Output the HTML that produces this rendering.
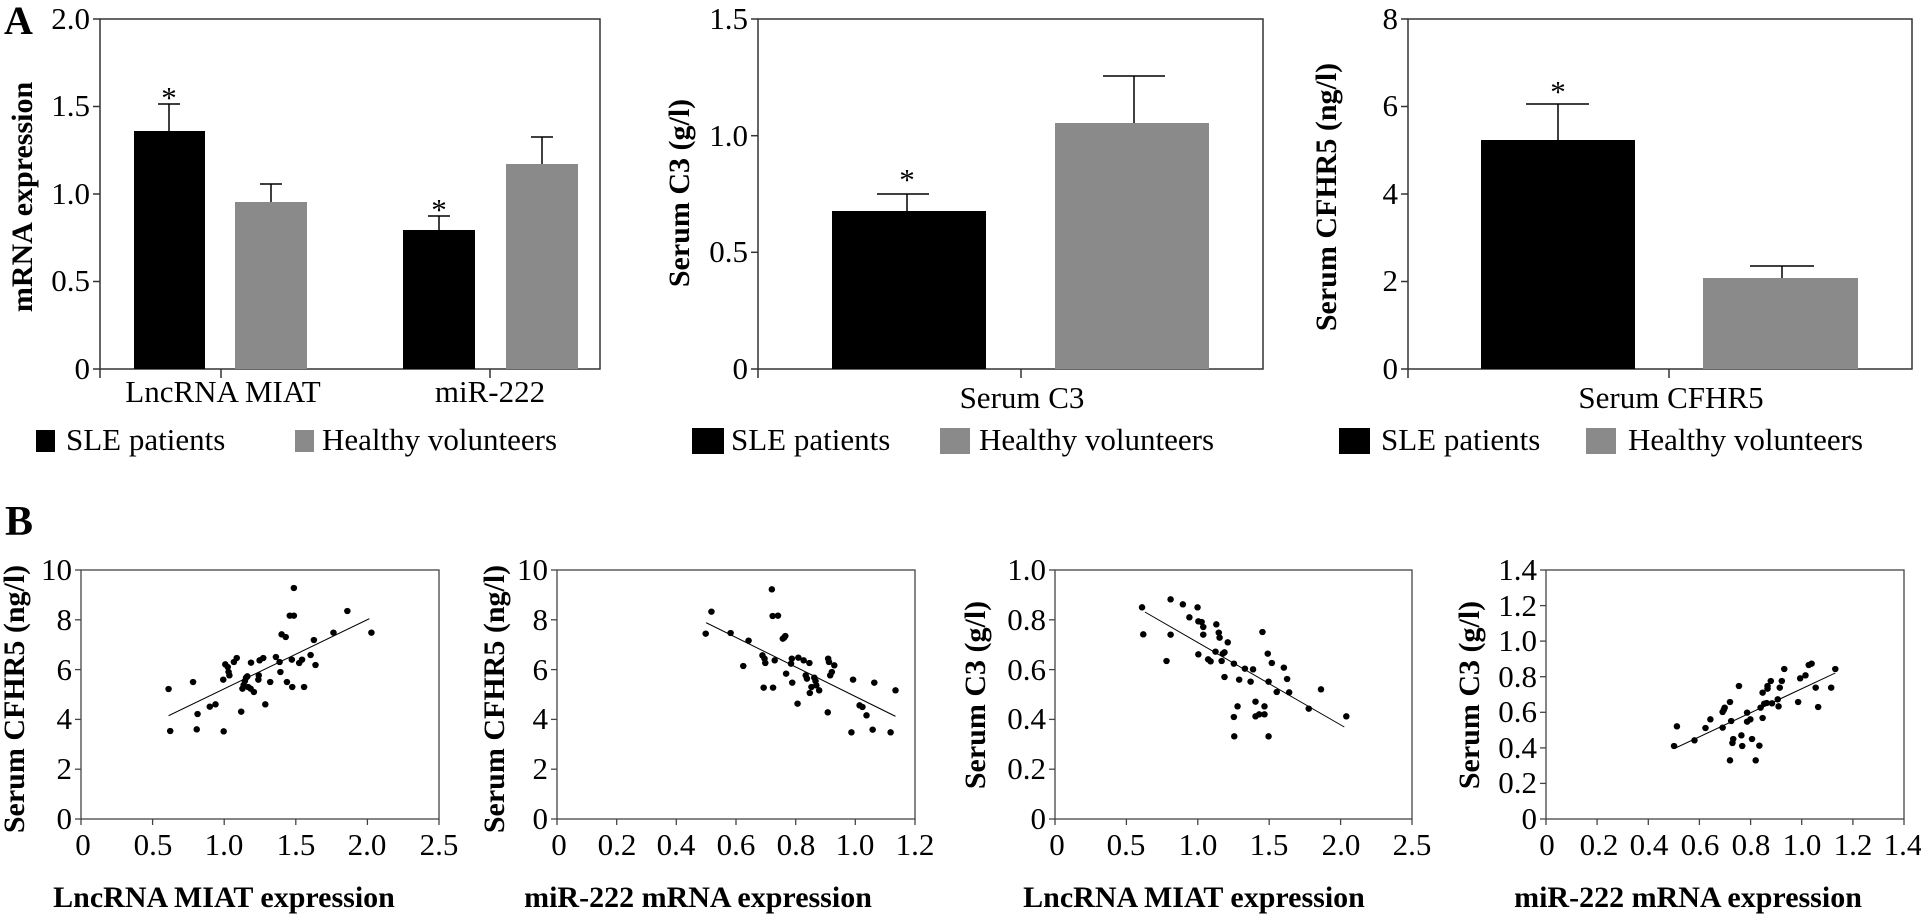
<!DOCTYPE html>
<html><head><meta charset="utf-8"><style>
html,body{margin:0;padding:0;background:#fff;}
svg{display:block;font-family:"Liberation Serif","Noto Serif CJK SC","DejaVu Serif",serif;}
svg text{font-family:"Liberation Serif","Noto Serif CJK SC","DejaVu Serif",serif;fill:#000;}
.t{font-size:31px;font-weight:normal;}
.b{font-size:30px;font-weight:bold;}
</style></head><body>
<svg width="1921" height="917" viewBox="0 0 1921 917" xmlns="http://www.w3.org/2000/svg">
<text x="4" y="34" style="font-size:40px;font-weight:bold">A</text>
<text x="5" y="535" style="font-size:42px;font-weight:bold">B</text>

<g stroke="#333" stroke-width="1.5" fill="none">
<rect x="100" y="19" width="500" height="350"/>
<line x1="93" y1="19" x2="100" y2="19"/><line x1="93" y1="106.5" x2="100" y2="106.5"/>
<line x1="93" y1="194" x2="100" y2="194"/><line x1="93" y1="281.5" x2="100" y2="281.5"/>
<line x1="93" y1="369" x2="100" y2="369"/>
<line x1="100" y1="369" x2="100" y2="378"/><line x1="221" y1="369" x2="221" y2="378"/><line x1="490" y1="369" x2="490" y2="378"/>
</g>
<rect x="134" y="131" width="71" height="238" fill="#000"/>
<rect x="235" y="202" width="72" height="167" fill="#8a8a8a"/>
<rect x="403" y="230" width="72" height="139" fill="#000"/>
<rect x="506" y="164" width="72" height="205" fill="#8a8a8a"/>
<g stroke="#000" stroke-width="1.5">
<line x1="169" y1="131" x2="169" y2="104"/><line x1="158" y1="104" x2="180" y2="104"/>
<line x1="271" y1="202" x2="271" y2="184"/><line x1="260" y1="184" x2="282" y2="184"/>
<line x1="439" y1="230" x2="439" y2="216"/><line x1="428" y1="216" x2="450" y2="216"/>
<line x1="542" y1="164" x2="542" y2="137"/><line x1="531" y1="137" x2="553" y2="137"/>
</g>
<text class="t" x="169" y="108" text-anchor="middle">*</text>
<text class="t" x="439" y="220" text-anchor="middle">*</text>
<g class="t" text-anchor="end">
<text x="90" y="29">2.0</text><text x="90" y="116">1.5</text><text x="90" y="204">1.0</text>
<text x="90" y="291">0.5</text><text x="90" y="379">0</text>
</g>
<text class="t" x="223" y="402" text-anchor="middle">LncRNA MIAT</text>
<text class="t" x="490" y="402" text-anchor="middle">miR-222</text>
<text class="b" transform="translate(32,197) rotate(-90)" text-anchor="middle">mRNA expression</text>
<rect x="36" y="430" width="19" height="22" fill="#000"/>
<text class="t" x="66" y="450">SLE patients</text>
<rect x="295" y="430" width="19" height="22" fill="#8a8a8a"/>
<text class="t" x="322" y="450">Healthy volunteers</text>

<g stroke="#333" stroke-width="1.5" fill="none">
<rect x="758" y="19" width="505" height="350"/>
<line x1="751" y1="19" x2="758" y2="19"/><line x1="751" y1="135.7" x2="758" y2="135.7"/>
<line x1="751" y1="252.3" x2="758" y2="252.3"/><line x1="751" y1="369" x2="758" y2="369"/>
<line x1="758" y1="369" x2="758" y2="378"/><line x1="1021" y1="369" x2="1021" y2="378"/>
</g>
<rect x="832" y="211" width="154" height="158" fill="#000"/>
<rect x="1055" y="123" width="154" height="246" fill="#8a8a8a"/>
<g stroke="#000" stroke-width="1.5">
<line x1="907" y1="211" x2="907" y2="194"/><line x1="877" y1="194" x2="929" y2="194"/>
<line x1="1134" y1="123" x2="1134" y2="76"/><line x1="1103" y1="76" x2="1165" y2="76"/>
</g>
<text class="t" x="907" y="190" text-anchor="middle">*</text>
<g class="t" text-anchor="end">
<text x="748" y="29">1.5</text><text x="748" y="146">1.0</text><text x="748" y="262">0.5</text><text x="748" y="379">0</text>
</g>
<text class="t" x="1022" y="408" text-anchor="middle">Serum C3</text>
<text class="b" transform="translate(689,193) rotate(-90)" text-anchor="middle">Serum C3 (g/l)</text>
<rect x="692" y="428" width="32" height="26" fill="#000"/>
<text class="t" x="731" y="450">SLE patients</text>
<rect x="940" y="428" width="30" height="26" fill="#8a8a8a"/>
<text class="t" x="979" y="450">Healthy volunteers</text>

<g stroke="#333" stroke-width="1.5" fill="none">
<rect x="1408" y="19" width="504" height="350"/>
<line x1="1401" y1="19" x2="1408" y2="19"/><line x1="1401" y1="106.5" x2="1408" y2="106.5"/>
<line x1="1401" y1="194" x2="1408" y2="194"/><line x1="1401" y1="281.5" x2="1408" y2="281.5"/>
<line x1="1401" y1="369" x2="1408" y2="369"/>
<line x1="1408" y1="369" x2="1408" y2="378"/><line x1="1669" y1="369" x2="1669" y2="378"/>
</g>
<rect x="1481" y="140" width="154" height="229" fill="#000"/>
<rect x="1703" y="278" width="155" height="91" fill="#8a8a8a"/>
<g stroke="#000" stroke-width="1.5">
<line x1="1558" y1="140" x2="1558" y2="104"/><line x1="1526" y1="104" x2="1589" y2="104"/>
<line x1="1782" y1="278" x2="1782" y2="266"/><line x1="1750" y1="266" x2="1814" y2="266"/>
</g>
<text class="t" x="1558" y="102" text-anchor="middle">*</text>
<g class="t" text-anchor="end">
<text x="1398" y="29">8</text><text x="1398" y="116">6</text><text x="1398" y="204">4</text>
<text x="1398" y="291">2</text><text x="1398" y="379">0</text>
</g>
<text class="t" x="1671" y="408" text-anchor="middle">Serum CFHR5</text>
<text class="b" transform="translate(1336,197) rotate(-90)" text-anchor="middle">Serum CFHR5 (ng/l)</text>
<rect x="1339" y="428" width="31" height="26" fill="#000"/>
<text class="t" x="1381" y="450">SLE patients</text>
<rect x="1586" y="428" width="30" height="26" fill="#8a8a8a"/>
<text class="t" x="1628" y="450">Healthy volunteers</text>

<g stroke="#444" stroke-width="1.3" fill="none">
<rect x="81" y="570" width="358" height="249"/>
<line x1="75" y1="570" x2="81" y2="570"/><line x1="75" y1="619.8" x2="81" y2="619.8"/><line x1="75" y1="669.6" x2="81" y2="669.6"/>
<line x1="75" y1="719.4" x2="81" y2="719.4"/><line x1="75" y1="769.2" x2="81" y2="769.2"/><line x1="75" y1="819" x2="81" y2="819"/>
<line x1="81" y1="819" x2="81" y2="825"/><line x1="152.6" y1="819" x2="152.6" y2="825"/><line x1="224.2" y1="819" x2="224.2" y2="825"/>
<line x1="295.8" y1="819" x2="295.8" y2="825"/><line x1="367.4" y1="819" x2="367.4" y2="825"/><line x1="439" y1="819" x2="439" y2="825"/>
</g>
<g class="t" text-anchor="end">
<text x="72" y="580">10</text><text x="72" y="630">8</text><text x="72" y="680">6</text>
<text x="72" y="729">4</text><text x="72" y="779">2</text><text x="72" y="829">0</text>
</g>
<g class="t" text-anchor="middle">
<text x="83" y="855">0</text><text x="153" y="855">0.5</text><text x="224" y="855">1.0</text>
<text x="296" y="855">1.5</text><text x="367" y="855">2.0</text><text x="439" y="855">2.5</text>
</g>
<text class="b" x="224" y="907" text-anchor="middle">LncRNA MIAT expression</text>
<text class="b" transform="translate(24,699) rotate(-90)" text-anchor="middle">Serum CFHR5 (ng/l)</text>
<g transform="translate(0,457) scale(0.40816,0.33333)">
<line x1="413" y1="776" x2="905" y2="485" stroke="#000" stroke-width="3"/>
<g fill="#000">
<ellipse cx="413" cy="696" rx="8" ry="9.5"/><ellipse cx="417" cy="822" rx="8" ry="9.5"/><ellipse cx="473" cy="675" rx="8" ry="9.5"/><ellipse cx="482" cy="817" rx="8" ry="9.5"/><ellipse cx="484" cy="771" rx="8" ry="9.5"/><ellipse cx="514" cy="749" rx="8" ry="9.5"/><ellipse cx="528" cy="742" rx="8" ry="9.5"/><ellipse cx="548" cy="823" rx="8" ry="9.5"/><ellipse cx="547" cy="668" rx="8" ry="9.5"/><ellipse cx="552" cy="622" rx="8" ry="9.5"/><ellipse cx="558" cy="630" rx="8" ry="9.5"/><ellipse cx="560" cy="645" rx="8" ry="9.5"/><ellipse cx="562" cy="655" rx="8" ry="9.5"/><ellipse cx="573" cy="615" rx="8" ry="9.5"/><ellipse cx="580" cy="603" rx="8" ry="9.5"/><ellipse cx="591" cy="764" rx="8" ry="9.5"/><ellipse cx="594" cy="695" rx="8" ry="9.5"/><ellipse cx="597" cy="684" rx="8" ry="9.5"/><ellipse cx="600" cy="672" rx="8" ry="9.5"/><ellipse cx="603" cy="662" rx="8" ry="9.5"/><ellipse cx="606" cy="658" rx="8" ry="9.5"/><ellipse cx="608" cy="690" rx="8" ry="9.5"/><ellipse cx="614" cy="695" rx="8" ry="9.5"/><ellipse cx="615" cy="617" rx="8" ry="9.5"/><ellipse cx="622" cy="705" rx="8" ry="9.5"/><ellipse cx="633" cy="668" rx="8" ry="9.5"/><ellipse cx="634" cy="655" rx="8" ry="9.5"/><ellipse cx="636" cy="610" rx="8" ry="9.5"/><ellipse cx="645" cy="603" rx="8" ry="9.5"/><ellipse cx="650" cy="742" rx="8" ry="9.5"/><ellipse cx="662" cy="675" rx="8" ry="9.5"/><ellipse cx="676" cy="600" rx="8" ry="9.5"/><ellipse cx="685" cy="615" rx="8" ry="9.5"/><ellipse cx="687" cy="645" rx="8" ry="9.5"/><ellipse cx="690" cy="532" rx="8" ry="9.5"/><ellipse cx="700" cy="540" rx="8" ry="9.5"/><ellipse cx="703" cy="675" rx="8" ry="9.5"/><ellipse cx="710" cy="476" rx="8" ry="9.5"/><ellipse cx="715" cy="608" rx="8" ry="9.5"/><ellipse cx="716" cy="690" rx="8" ry="9.5"/><ellipse cx="720" cy="476" rx="8" ry="9.5"/><ellipse cx="720" cy="393" rx="8" ry="9.5"/><ellipse cx="733" cy="618" rx="8" ry="9.5"/><ellipse cx="740" cy="608" rx="8" ry="9.5"/><ellipse cx="745" cy="690" rx="8" ry="9.5"/><ellipse cx="761" cy="594" rx="8" ry="9.5"/><ellipse cx="769" cy="549" rx="8" ry="9.5"/><ellipse cx="773" cy="624" rx="8" ry="9.5"/><ellipse cx="817" cy="527" rx="8" ry="9.5"/><ellipse cx="851" cy="462" rx="8" ry="9.5"/><ellipse cx="910" cy="527" rx="8" ry="9.5"/>
</g></g>

<g stroke="#444" stroke-width="1.3" fill="none">
<rect x="557" y="570" width="358" height="249"/>
<line x1="551" y1="570" x2="557" y2="570"/><line x1="551" y1="619.8" x2="557" y2="619.8"/><line x1="551" y1="669.6" x2="557" y2="669.6"/>
<line x1="551" y1="719.4" x2="557" y2="719.4"/><line x1="551" y1="769.2" x2="557" y2="769.2"/><line x1="551" y1="819" x2="557" y2="819"/>
<line x1="557" y1="819" x2="557" y2="825"/><line x1="616.7" y1="819" x2="616.7" y2="825"/><line x1="676.3" y1="819" x2="676.3" y2="825"/>
<line x1="736" y1="819" x2="736" y2="825"/><line x1="795.7" y1="819" x2="795.7" y2="825"/><line x1="855.3" y1="819" x2="855.3" y2="825"/><line x1="915" y1="819" x2="915" y2="825"/>
</g>
<g class="t" text-anchor="end">
<text x="548" y="580">10</text><text x="548" y="630">8</text><text x="548" y="680">6</text>
<text x="548" y="729">4</text><text x="548" y="779">2</text><text x="548" y="829">0</text>
</g>
<g class="t" text-anchor="middle">
<text x="559" y="855">0</text><text x="617" y="855">0.2</text><text x="676" y="855">0.4</text><text x="736" y="855">0.6</text>
<text x="796" y="855">0.8</text><text x="855" y="855">1.0</text><text x="915" y="855">1.2</text>
</g>
<text class="b" x="698" y="907" text-anchor="middle">miR-222 mRNA expression</text>
<text class="b" transform="translate(504,699) rotate(-90)" text-anchor="middle">Serum CFHR5 (ng/l)</text>
<g transform="translate(640,457) scale(0.40816,0.33333)">
<line x1="162" y1="497" x2="626" y2="778" stroke="#000" stroke-width="3"/>
<g fill="#000">
<ellipse cx="161" cy="530" rx="8" ry="9.5"/><ellipse cx="175" cy="464" rx="8" ry="9.5"/><ellipse cx="222" cy="528" rx="8" ry="9.5"/><ellipse cx="253" cy="627" rx="8" ry="9.5"/><ellipse cx="266" cy="551" rx="8" ry="9.5"/><ellipse cx="300" cy="595" rx="8" ry="9.5"/><ellipse cx="303" cy="692" rx="8" ry="9.5"/><ellipse cx="305" cy="605" rx="8" ry="9.5"/><ellipse cx="307" cy="618" rx="8" ry="9.5"/><ellipse cx="323" cy="397" rx="8" ry="9.5"/><ellipse cx="325" cy="477" rx="8" ry="9.5"/><ellipse cx="326" cy="692" rx="8" ry="9.5"/><ellipse cx="330" cy="610" rx="8" ry="9.5"/><ellipse cx="338" cy="476" rx="8" ry="9.5"/><ellipse cx="350" cy="545" rx="8" ry="9.5"/><ellipse cx="353" cy="542" rx="8" ry="9.5"/><ellipse cx="356" cy="537" rx="8" ry="9.5"/><ellipse cx="358" cy="650" rx="8" ry="9.5"/><ellipse cx="370" cy="620" rx="8" ry="9.5"/><ellipse cx="372" cy="605" rx="8" ry="9.5"/><ellipse cx="373" cy="677" rx="8" ry="9.5"/><ellipse cx="386" cy="740" rx="8" ry="9.5"/><ellipse cx="388" cy="602" rx="8" ry="9.5"/><ellipse cx="401" cy="610" rx="8" ry="9.5"/><ellipse cx="406" cy="655" rx="8" ry="9.5"/><ellipse cx="409" cy="665" rx="8" ry="9.5"/><ellipse cx="415" cy="618" rx="8" ry="9.5"/><ellipse cx="416" cy="708" rx="8" ry="9.5"/><ellipse cx="420" cy="690" rx="8" ry="9.5"/><ellipse cx="427" cy="662" rx="8" ry="9.5"/><ellipse cx="430" cy="672" rx="8" ry="9.5"/><ellipse cx="432" cy="685" rx="8" ry="9.5"/><ellipse cx="439" cy="700" rx="8" ry="9.5"/><ellipse cx="460" cy="766" rx="8" ry="9.5"/><ellipse cx="461" cy="605" rx="8" ry="9.5"/><ellipse cx="463" cy="615" rx="8" ry="9.5"/><ellipse cx="466" cy="655" rx="8" ry="9.5"/><ellipse cx="470" cy="645" rx="8" ry="9.5"/><ellipse cx="476" cy="625" rx="8" ry="9.5"/><ellipse cx="518" cy="826" rx="8" ry="9.5"/><ellipse cx="522" cy="668" rx="8" ry="9.5"/><ellipse cx="538" cy="745" rx="8" ry="9.5"/><ellipse cx="545" cy="750" rx="8" ry="9.5"/><ellipse cx="555" cy="775" rx="8" ry="9.5"/><ellipse cx="570" cy="818" rx="8" ry="9.5"/><ellipse cx="574" cy="677" rx="8" ry="9.5"/><ellipse cx="614" cy="826" rx="8" ry="9.5"/><ellipse cx="626" cy="700" rx="8" ry="9.5"/>
</g></g>

<g stroke="#444" stroke-width="1.3" fill="none">
<rect x="1055" y="570" width="357" height="249"/>
<line x1="1049" y1="570" x2="1055" y2="570"/><line x1="1049" y1="619.8" x2="1055" y2="619.8"/><line x1="1049" y1="669.6" x2="1055" y2="669.6"/>
<line x1="1049" y1="719.4" x2="1055" y2="719.4"/><line x1="1049" y1="769.2" x2="1055" y2="769.2"/><line x1="1049" y1="819" x2="1055" y2="819"/>
<line x1="1055" y1="819" x2="1055" y2="825"/><line x1="1126.4" y1="819" x2="1126.4" y2="825"/><line x1="1197.8" y1="819" x2="1197.8" y2="825"/>
<line x1="1269.2" y1="819" x2="1269.2" y2="825"/><line x1="1340.6" y1="819" x2="1340.6" y2="825"/><line x1="1412" y1="819" x2="1412" y2="825"/>
</g>
<g class="t" text-anchor="end">
<text x="1046" y="580">1.0</text><text x="1046" y="630">0.8</text><text x="1046" y="680">0.6</text>
<text x="1046" y="729">0.4</text><text x="1046" y="779">0.2</text><text x="1046" y="829">0</text>
</g>
<g class="t" text-anchor="middle">
<text x="1057" y="855">0</text><text x="1126" y="855">0.5</text><text x="1198" y="855">1.0</text>
<text x="1269" y="855">1.5</text><text x="1341" y="855">2.0</text><text x="1412" y="855">2.5</text>
</g>
<text class="b" x="1194" y="907" text-anchor="middle">LncRNA MIAT expression</text>
<text class="b" transform="translate(985,695) rotate(-90)" text-anchor="middle">Serum C3 (g/l)</text>
<line x1="1144.9" y1="612" x2="1344.3" y2="727" stroke="#000" stroke-width="1"/>
<g transform="translate(640,457) scale(0.40816,0.33333)" fill="#000">
<ellipse cx="1230" cy="451" rx="8" ry="9.5"/><ellipse cx="1233" cy="532" rx="8" ry="9.5"/><ellipse cx="1290" cy="612" rx="8" ry="9.5"/><ellipse cx="1300" cy="427" rx="8" ry="9.5"/><ellipse cx="1300" cy="533" rx="8" ry="9.5"/><ellipse cx="1330" cy="442" rx="8" ry="9.5"/><ellipse cx="1346" cy="481" rx="8" ry="9.5"/><ellipse cx="1366" cy="451" rx="8" ry="9.5"/><ellipse cx="1368" cy="493" rx="8" ry="9.5"/><ellipse cx="1368" cy="592" rx="8" ry="9.5"/><ellipse cx="1376" cy="495" rx="8" ry="9.5"/><ellipse cx="1380" cy="510" rx="8" ry="9.5"/><ellipse cx="1380" cy="533" rx="8" ry="9.5"/><ellipse cx="1392" cy="607" rx="8" ry="9.5"/><ellipse cx="1398" cy="613" rx="8" ry="9.5"/><ellipse cx="1412" cy="502" rx="8" ry="9.5"/><ellipse cx="1410" cy="584" rx="8" ry="9.5"/><ellipse cx="1418" cy="527" rx="8" ry="9.5"/><ellipse cx="1420" cy="542" rx="8" ry="9.5"/><ellipse cx="1425" cy="612" rx="8" ry="9.5"/><ellipse cx="1428" cy="590" rx="8" ry="9.5"/><ellipse cx="1432" cy="586" rx="8" ry="9.5"/><ellipse cx="1432" cy="660" rx="8" ry="9.5"/><ellipse cx="1440" cy="556" rx="8" ry="9.5"/><ellipse cx="1455" cy="620" rx="8" ry="9.5"/><ellipse cx="1455" cy="780" rx="8" ry="9.5"/><ellipse cx="1456" cy="838" rx="8" ry="9.5"/><ellipse cx="1464" cy="748" rx="8" ry="9.5"/><ellipse cx="1468" cy="668" rx="8" ry="9.5"/><ellipse cx="1482" cy="635" rx="8" ry="9.5"/><ellipse cx="1496" cy="674" rx="8" ry="9.5"/><ellipse cx="1502" cy="637" rx="8" ry="9.5"/><ellipse cx="1508" cy="734" rx="8" ry="9.5"/><ellipse cx="1508" cy="778" rx="8" ry="9.5"/><ellipse cx="1517" cy="772" rx="8" ry="9.5"/><ellipse cx="1525" cy="525" rx="8" ry="9.5"/><ellipse cx="1530" cy="748" rx="8" ry="9.5"/><ellipse cx="1530" cy="772" rx="8" ry="9.5"/><ellipse cx="1538" cy="590" rx="8" ry="9.5"/><ellipse cx="1540" cy="838" rx="8" ry="9.5"/><ellipse cx="1540" cy="674" rx="8" ry="9.5"/><ellipse cx="1548" cy="618" rx="8" ry="9.5"/><ellipse cx="1560" cy="705" rx="8" ry="9.5"/>
</g>
<g transform="translate(1281,457) scale(0.40816,0.33333)" fill="#000">
<ellipse cx="7" cy="632" rx="8" ry="9.5"/><ellipse cx="15" cy="666" rx="8" ry="9.5"/><ellipse cx="20" cy="706" rx="8" ry="9.5"/><ellipse cx="68" cy="755" rx="8" ry="9.5"/><ellipse cx="98" cy="697" rx="8" ry="9.5"/><ellipse cx="160" cy="778" rx="8" ry="9.5"/>
</g>

<g stroke="#444" stroke-width="1.3" fill="none">
<rect x="1546" y="570" width="358" height="249"/>
<line x1="1540" y1="570" x2="1546" y2="570"/><line x1="1540" y1="605.6" x2="1546" y2="605.6"/><line x1="1540" y1="641.1" x2="1546" y2="641.1"/>
<line x1="1540" y1="676.7" x2="1546" y2="676.7"/><line x1="1540" y1="712.3" x2="1546" y2="712.3"/><line x1="1540" y1="747.9" x2="1546" y2="747.9"/>
<line x1="1540" y1="783.4" x2="1546" y2="783.4"/><line x1="1540" y1="819" x2="1546" y2="819"/>
<line x1="1546" y1="819" x2="1546" y2="825"/><line x1="1597.1" y1="819" x2="1597.1" y2="825"/><line x1="1648.3" y1="819" x2="1648.3" y2="825"/>
<line x1="1699.4" y1="819" x2="1699.4" y2="825"/><line x1="1750.6" y1="819" x2="1750.6" y2="825"/><line x1="1801.7" y1="819" x2="1801.7" y2="825"/>
<line x1="1852.9" y1="819" x2="1852.9" y2="825"/><line x1="1904" y1="819" x2="1904" y2="825"/>
</g>
<g class="t" text-anchor="end">
<text x="1537" y="580">1.4</text><text x="1537" y="616">1.2</text><text x="1537" y="651">1.0</text><text x="1537" y="687">0.8</text>
<text x="1537" y="722">0.6</text><text x="1537" y="758">0.4</text><text x="1537" y="793">0.2</text><text x="1537" y="829">0</text>
</g>
<g class="t" text-anchor="middle">
<text x="1547" y="855">0</text><text x="1599" y="855">0.2</text><text x="1649" y="855">0.4</text><text x="1700" y="855">0.6</text>
<text x="1751" y="855">0.8</text><text x="1802" y="855">1.0</text><text x="1853" y="855">1.2</text><text x="1903" y="855">1.4</text>
</g>
<text class="b" x="1688" y="907" text-anchor="middle">miR-222 mRNA expression</text>
<text class="b" transform="translate(1479,695) rotate(-90)" text-anchor="middle">Serum C3 (g/l)</text>
<g transform="translate(1281,457) scale(0.40816,0.33333)">
<line x1="963" y1="875" x2="1358" y2="648" stroke="#000" stroke-width="3"/>
<g fill="#000">
<ellipse cx="963" cy="867" rx="8" ry="9.5"/><ellipse cx="970" cy="808" rx="8" ry="9.5"/><ellipse cx="1013" cy="850" rx="8" ry="9.5"/><ellipse cx="1040" cy="813" rx="8" ry="9.5"/><ellipse cx="1052" cy="787" rx="8" ry="9.5"/><ellipse cx="1082" cy="812" rx="8" ry="9.5"/><ellipse cx="1082" cy="765" rx="8" ry="9.5"/><ellipse cx="1085" cy="758" rx="8" ry="9.5"/><ellipse cx="1087" cy="752" rx="8" ry="9.5"/><ellipse cx="1100" cy="735" rx="8" ry="9.5"/><ellipse cx="1103" cy="792" rx="8" ry="9.5"/><ellipse cx="1100" cy="910" rx="8" ry="9.5"/><ellipse cx="1106" cy="858" rx="8" ry="9.5"/><ellipse cx="1108" cy="846" rx="8" ry="9.5"/><ellipse cx="1122" cy="687" rx="8" ry="9.5"/><ellipse cx="1128" cy="835" rx="8" ry="9.5"/><ellipse cx="1130" cy="867" rx="8" ry="9.5"/><ellipse cx="1142" cy="767" rx="8" ry="9.5"/><ellipse cx="1142" cy="794" rx="8" ry="9.5"/><ellipse cx="1150" cy="787" rx="8" ry="9.5"/><ellipse cx="1154" cy="846" rx="8" ry="9.5"/><ellipse cx="1163" cy="910" rx="8" ry="9.5"/><ellipse cx="1172" cy="866" rx="8" ry="9.5"/><ellipse cx="1175" cy="752" rx="8" ry="9.5"/><ellipse cx="1180" cy="707" rx="8" ry="9.5"/><ellipse cx="1180" cy="783" rx="8" ry="9.5"/><ellipse cx="1184" cy="740" rx="8" ry="9.5"/><ellipse cx="1190" cy="738" rx="8" ry="9.5"/><ellipse cx="1192" cy="695" rx="8" ry="9.5"/><ellipse cx="1192" cy="687" rx="8" ry="9.5"/><ellipse cx="1200" cy="672" rx="8" ry="9.5"/><ellipse cx="1203" cy="739" rx="8" ry="9.5"/><ellipse cx="1217" cy="727" rx="8" ry="9.5"/><ellipse cx="1219" cy="748" rx="8" ry="9.5"/><ellipse cx="1222" cy="692" rx="8" ry="9.5"/><ellipse cx="1227" cy="672" rx="8" ry="9.5"/><ellipse cx="1233" cy="636" rx="8" ry="9.5"/><ellipse cx="1267" cy="735" rx="8" ry="9.5"/><ellipse cx="1272" cy="664" rx="8" ry="9.5"/><ellipse cx="1285" cy="655" rx="8" ry="9.5"/><ellipse cx="1293" cy="624" rx="8" ry="9.5"/><ellipse cx="1300" cy="620" rx="8" ry="9.5"/><ellipse cx="1310" cy="692" rx="8" ry="9.5"/><ellipse cx="1316" cy="750" rx="8" ry="9.5"/><ellipse cx="1348" cy="692" rx="8" ry="9.5"/><ellipse cx="1358" cy="636" rx="8" ry="9.5"/>
</g></g>
</svg>
</body></html>
